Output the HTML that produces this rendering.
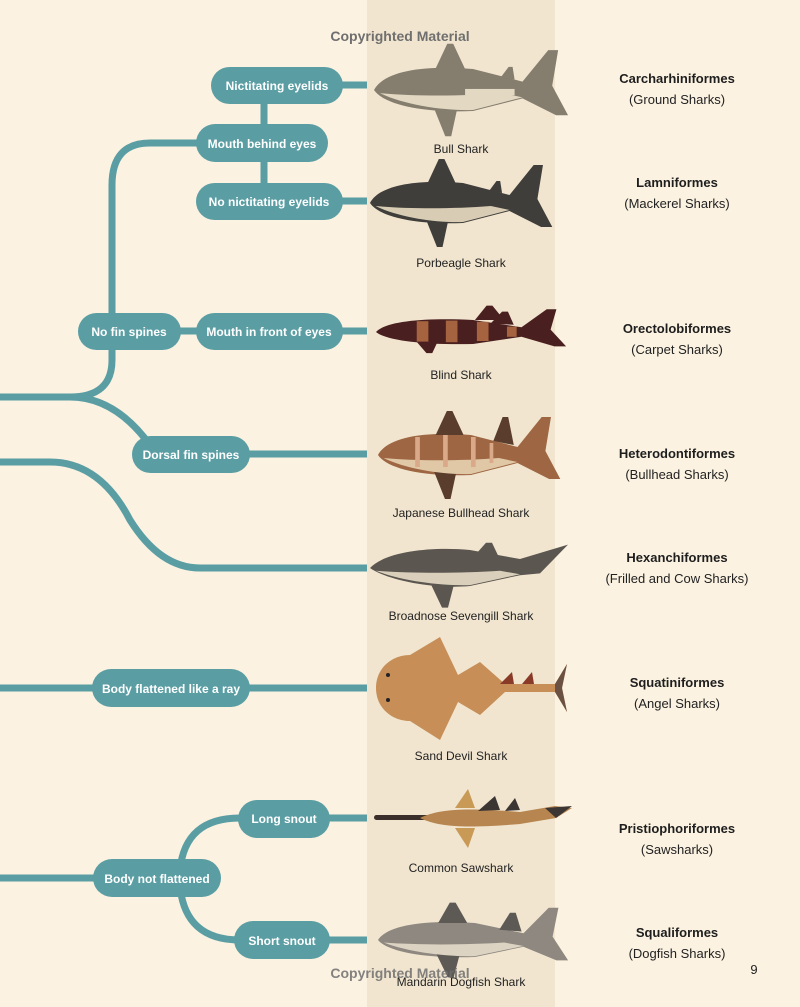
<!DOCTYPE html>
<html><head><meta charset="utf-8"><style>
html,body{margin:0;padding:0;background:#fbf2e1;}
svg{display:block}
.n{font-family:"Liberation Sans",sans-serif;font-size:12px;font-weight:bold;fill:#fff;text-anchor:middle}
.c{font-family:"Liberation Sans",sans-serif;font-size:12px;fill:#222;text-anchor:middle}
.t{font-family:"Liberation Sans",sans-serif;font-size:13px;font-weight:bold;fill:#1e1e1e;text-anchor:middle}
.s{font-family:"Liberation Sans",sans-serif;font-size:13px;fill:#222;text-anchor:middle}
</style></head><body>
<svg width="800" height="1007" viewBox="0 0 800 1007" xmlns="http://www.w3.org/2000/svg">
<defs>
<path id="body" d="M0,0 C10,-18 50,-24 100,-20 L150,-8 L176,-38 L186,-38 L180,-4 L196,24 L184,24 L150,8 L100,20 C50,22 10,14 0,0Z"/>
<path id="belly" d="M6,3 C30,14 70,20 100,19 L150,7 L130,3 C90,6 40,6 6,3Z"/>
<path id="dors" d="M62,-20 L74,-44 L80,-44 L92,-20Z"/>
<path id="pect" d="M60,16 L72,44 L78,44 L84,18Z"/>
<path id="d2" d="M128,-12 L136,-22 L140,-22 L142,-10Z"/>
</defs>
<rect x="0" y="0" width="800" height="1007" fill="#fbf2e1"/>
<rect x="367" y="0" width="188" height="1007" fill="#f1e5cf"/>

<g stroke="#5a9ea4" stroke-width="7" fill="none">
<path d="M0,397 H70 Q112,397 112,360 V185 Q112,143 150,143 H200"/>
<path d="M70,397 Q115,397 150,445"/>
<path d="M0,462 H50 Q100,462 130,520 Q160,568 200,568 H367"/>
<path d="M264,104 V124 M264,162 V183"/>
<path d="M340,85 H367 M340,201 H367 M340,331 H367 M180,331 H200 M248,454 H367"/>
<path d="M0,688 H367 M0,878 H100 M328,818 H367 M328,940 H367"/>
<path d="M180,870 Q185,818 240,818 M180,886 Q185,940 240,940"/>
</g>

<g fill="#5a9ea4">
<rect x="211" y="67" width="132" height="37" rx="18.5"/>
<rect x="196" y="124" width="132" height="38" rx="19"/>
<rect x="196" y="183" width="147" height="37" rx="18.5"/>
<rect x="78" y="313" width="103" height="37" rx="18.5"/>
<rect x="196" y="313" width="147" height="37" rx="18.5"/>
<rect x="132" y="436" width="118" height="37" rx="18.5"/>
<rect x="92" y="669" width="158" height="38" rx="19"/>
<rect x="238" y="800" width="92" height="38" rx="19"/>
<rect x="93" y="859" width="128" height="38" rx="19"/>
<rect x="234" y="921" width="96" height="38" rx="19"/>
</g>
<text class="n" x="277" y="90">Nictitating eyelids</text>
<text class="n" x="262" y="148">Mouth behind eyes</text>
<text class="n" x="269" y="206">No nictitating eyelids</text>
<text class="n" x="129" y="336">No fin spines</text>
<text class="n" x="269" y="336">Mouth in front of eyes</text>
<text class="n" x="191" y="459">Dorsal fin spines</text>
<text class="n" x="171" y="693">Body flattened like a ray</text>
<text class="n" x="284" y="823">Long snout</text>
<text class="n" x="157" y="883">Body not flattened</text>
<text class="n" x="282" y="945">Short snout</text>

<!-- Bull shark -->
<g transform="translate(374,90) scale(0.99,1.05)" fill="#857d6e">
<use href="#body"/><use href="#dors"/><use href="#pect"/><use href="#d2"/>
<use href="#belly" fill="#e3d8c2"/>
<rect x="92" y="-1" width="50" height="6" fill="#e3d8c2"/>
</g>
<!-- Porbeagle -->
<g transform="translate(370,203) scale(0.93,1)" fill="#403e3b">
<use href="#body"/><use href="#dors"/><use href="#pect"/><use href="#d2"/>
<use href="#belly" fill="#d8ccb4"/>
</g>
<!-- Blind shark -->
<g transform="translate(376,332) scale(0.97,0.6)" fill="#4a1f1f">
<use href="#body"/><use href="#dors" transform="translate(40,0)"/><path d="M118,-14 L130,-34 L136,-34 L142,-12Z"/><use href="#pect" transform="translate(-20,0) scale(1,0.8)"/>
<g fill="#a5643f"><rect x="42" y="-18" width="12" height="34"/><rect x="72" y="-19" width="12" height="36"/><rect x="104" y="-17" width="12" height="32"/><rect x="135" y="-9" width="10" height="17"/></g>
</g>
<!-- Japanese bullhead -->
<g transform="translate(378,455) scale(0.93,1)" fill="#9e6643">
<use href="#body"/><use href="#dors" fill="#5a3d2c"/><use href="#pect" fill="#5a3d2c"/>
<path d="M124,-14 L134,-38 L140,-38 L146,-10Z" fill="#5a3d2c"/>
<use href="#belly" fill="#e0c7a5"/>
<g fill="#d9a98a"><rect x="40" y="-18" width="5" height="30"/><rect x="70" y="-20" width="5" height="32"/><rect x="100" y="-18" width="5" height="30"/><rect x="120" y="-12" width="4" height="20"/></g>
</g>
<!-- Broadnose sevengill -->
<g transform="translate(370,568) scale(1,0.9)" fill="#5b5650">
<path d="M0,0 C15,-18 60,-24 100,-20 L150,-10 L198,-26 L170,6 L150,8 L100,20 C60,24 15,12 0,0Z"/>
<use href="#pect"/><path d="M108,-18 L116,-28 L122,-28 L128,-14Z"/>
<use href="#belly" fill="#d9cfbb"/>
</g>
<!-- Sand devil -->
<g fill="#c78e57">
<path d="M376,688 C376,668 392,655 410,655 L440,637 L458,675 L480,662 L505,684 L555,684 L567,664 L562,688 L567,712 L555,692 L505,692 L480,715 L458,702 L440,740 L410,721 C392,721 376,708 376,688Z"/>
<path d="M500,684 L512,672 L514,684Z M522,684 L532,672 L534,684Z" fill="#8a3b28"/>
<path d="M555,684 L567,664 L562,688 L567,712 L555,692Z" fill="#6b5141"/>
<circle cx="388" cy="675" r="2" fill="#222"/><circle cx="388" cy="700" r="2" fill="#222"/>
</g>
<!-- Common sawshark -->
<g>
<rect x="374" y="815" width="60" height="5" rx="2.5" fill="#3a2f2a"/>
<path d="M420,818 C440,808 470,808 520,812 L555,806 L572,808 L556,818 L520,824 C470,828 440,828 420,818Z" fill="#b78550"/>
<path d="M455,808 L468,789 L475,808Z M455,828 L468,848 L475,828Z" fill="#c99a55"/>
<path d="M478,811 L495,796 L500,810Z M505,811 L515,798 L520,810Z" fill="#3b3533"/>
<path d="M545,808 L572,806 L556,818Z" fill="#3b3533"/>
</g>
<!-- Mandarin dogfish -->
<g transform="translate(378,940) scale(0.97,0.85)" fill="#8e8880">
<use href="#body"/><use href="#dors" fill="#5d5a55"/><use href="#pect" fill="#5d5a55"/>
<path d="M125,-12 L136,-32 L142,-32 L148,-10Z" fill="#5d5a55"/>
<use href="#belly" fill="#dcd3c2"/>
</g>

<text class="c" x="461" y="153">Bull Shark</text>
<text class="c" x="461" y="267">Porbeagle Shark</text>
<text class="c" x="461" y="379">Blind Shark</text>
<text class="c" x="461" y="517">Japanese Bullhead Shark</text>
<text class="c" x="461" y="620">Broadnose Sevengill Shark</text>
<text class="c" x="461" y="760">Sand Devil Shark</text>
<text class="c" x="461" y="872">Common Sawshark</text>
<text class="c" x="461" y="986">Mandarin Dogfish Shark</text>

<text class="t" x="677" y="83">Carcharhiniformes</text><text class="s" x="677" y="104">(Ground Sharks)</text>
<text class="t" x="677" y="187">Lamniformes</text><text class="s" x="677" y="208">(Mackerel Sharks)</text>
<text class="t" x="677" y="333">Orectolobiformes</text><text class="s" x="677" y="354">(Carpet Sharks)</text>
<text class="t" x="677" y="458">Heterodontiformes</text><text class="s" x="677" y="479">(Bullhead Sharks)</text>
<text class="t" x="677" y="562">Hexanchiformes</text><text class="s" x="677" y="583">(Frilled and Cow Sharks)</text>
<text class="t" x="677" y="687">Squatiniformes</text><text class="s" x="677" y="708">(Angel Sharks)</text>
<text class="t" x="677" y="833">Pristiophoriformes</text><text class="s" x="677" y="854">(Sawsharks)</text>
<text class="t" x="677" y="937">Squaliformes</text><text class="s" x="677" y="958">(Dogfish Sharks)</text>
<text class="s" x="754" y="974">9</text>

<text x="400" y="41" text-anchor="middle" font-family="Liberation Sans,sans-serif" font-size="14" font-weight="bold" fill="#6f6f6f">Copyrighted Material</text>
<text x="400" y="978" text-anchor="middle" font-family="Liberation Sans,sans-serif" font-size="14" font-weight="bold" fill="#6f6f6f" opacity="0.85">Copyrighted Material</text>
</svg>
</body></html>
